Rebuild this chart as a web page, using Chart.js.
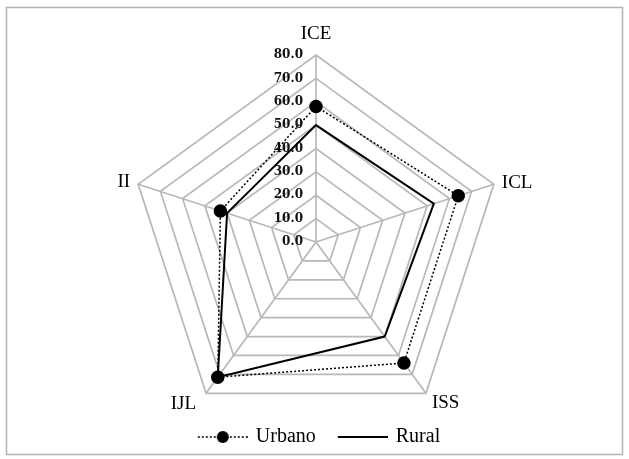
<!DOCTYPE html>
<html>
<head>
<meta charset="utf-8">
<script src="https://cdn.jsdelivr.net/npm/chart.js@4"></script>
<style>
    html, body { margin: 0; padding: 0; background: #fff; }
    #wrap { width: 629px; height: 459px; }
</style>
</head>
<body>
<div id="wrap"><canvas id="radarChart" width="629" height="459"></canvas></div>
<script>
const axisLabels = ['ICE', 'ICL', 'ISS', 'IJL', 'II'];
const urbanoValues = [58, 64, 64, 71.5, 43];
const ruralValues = [50, 53, 50, 71.5, 40];
const tickValues = [0, 10, 20, 30, 40, 50, 60, 70, 80];

const SERIF = '"Liberation Serif", "Times New Roman", serif';
const TICK_FONT = 'bold 12px "DejaVu Serif", serif';
const SYMBOL_W = 66;
const SYMBOL_GAP = 16;
const LEGEND_SHIFT = { x: 4, y: 10 };

// where each axis name sits relative to its outer vertex
const LABEL_PLACE = [
    { align: 'center', dx: 0, dy: -21 },
    { align: 'left', dx: 8, dy: -1 },
    { align: 'left', dx: 6, dy: 10 },
    { align: 'right', dx: -10, dy: 11 },
    { align: 'right', dx: -8, dy: -2 }
];

// small canvases used as legend symbols (line with / without marker),
// left part is left blank so the items get some room between them
function legendSymbol(dotted, withPoint) {
    const c = document.createElement('canvas');
    c.width = SYMBOL_W;
    c.height = 14;
    const g = c.getContext('2d');
    g.strokeStyle = '#000';
    g.lineWidth = dotted ? 1.5 : 2;
    if (dotted) g.setLineDash([2, 2]);
    g.beginPath();
    g.moveTo(SYMBOL_GAP, 7);
    g.lineTo(SYMBOL_W, 7);
    g.stroke();
    if (withPoint) {
        g.fillStyle = '#000';
        g.beginPath();
        g.arc(SYMBOL_GAP + 25, 7, 6, 0, Math.PI * 2);
        g.fill();
    }
    return c;
}
const urbanoSymbol = legendSymbol(true, true);
const ruralSymbol = legendSymbol(false, false);

// outer frame round the whole chart
const framePlugin = {
    id: 'frame',
    beforeDraw(chart) {
        const ctx = chart.ctx;
        ctx.save();
        ctx.strokeStyle = '#b4b4b4';
        ctx.lineWidth = 1.5;
        ctx.strokeRect(6.5, 7.5, 616, 447);
        ctx.restore();
    }
};

// legend sits over the empty band under the bottom labels
const legendShiftPlugin = {
    id: 'legendShift',
    afterLayout(chart) {
        const lg = chart.legend;
        lg.top -= LEGEND_SHIFT.y;
        lg.bottom -= LEGEND_SHIFT.y;
        lg.left -= LEGEND_SHIFT.x;
        lg.right -= LEGEND_SHIFT.x;
    }
};

// axis names and tick labels (ticks left of the vertical axis, right aligned)
const axisTextPlugin = {
    id: 'axisText',
    beforeDatasetsDraw(chart) {
        const scale = chart.scales.r;
        const ctx = chart.ctx;
        ctx.save();
        ctx.textBaseline = 'middle';

        ctx.font = TICK_FONT;
        ctx.fillStyle = '#111';
        ctx.textAlign = 'right';
        tickValues.forEach(v => {
            const d = scale.getDistanceFromCenterForValue(v);
            ctx.fillText(v.toFixed(1), scale.xCenter - 13, scale.yCenter - d);
        });

        ctx.font = '19px ' + SERIF;
        ctx.fillStyle = '#000';
        axisLabels.forEach((label, i) => {
            const p = scale.getPointPosition(i, scale.drawingArea);
            const place = LABEL_PLACE[i];
            ctx.textAlign = place.align;
            ctx.fillText(label, p.x + place.dx, p.y + place.dy);
        });
        ctx.restore();
    }
};

new Chart(document.getElementById('radarChart'), {
    type: 'radar',
    data: {
        labels: axisLabels,
        datasets: [
            {
                label: 'Urbano',
                data: urbanoValues,
                borderColor: '#000',
                borderWidth: 1.5,
                borderDash: [2, 2],
                pointRadius: 6,
                pointBackgroundColor: '#000',
                pointBorderColor: '#000',
                fill: false
            },
            {
                label: 'Rural',
                data: ruralValues,
                borderColor: '#000',
                borderWidth: 2,
                pointRadius: 0,
                fill: false
            }
        ]
    },
    options: {
        responsive: false,
        animation: false,
        layout: { padding: { top: 55, left: 121, right: 118, bottom: -8 } },
        plugins: {
            tooltip: { enabled: false },
            legend: {
                position: 'bottom',
                labels: {
                    usePointStyle: true,
                    pointStyleWidth: SYMBOL_W - 4,
                    color: '#000',
                    font: { family: SERIF, size: 20 },
                    padding: 8,
                    generateLabels() {
                        return [
                            { text: 'Urbano', pointStyle: urbanoSymbol, fontColor: '#000', lineWidth: 0, datasetIndex: 0 },
                            { text: 'Rural', pointStyle: ruralSymbol, fontColor: '#000', lineWidth: 0, datasetIndex: 1 }
                        ];
                    }
                }
            }
        },
        scales: {
            r: {
                min: 0,
                max: 80,
                ticks: { stepSize: 10, display: false },
                grid: { color: '#b8b8b8', lineWidth: 1.7 },
                angleLines: { color: '#b8b8b8', lineWidth: 1.7 },
                pointLabels: { display: false }
            }
        }
    },
    plugins: [framePlugin, legendShiftPlugin, axisTextPlugin]
});
</script>
</body>
</html>
